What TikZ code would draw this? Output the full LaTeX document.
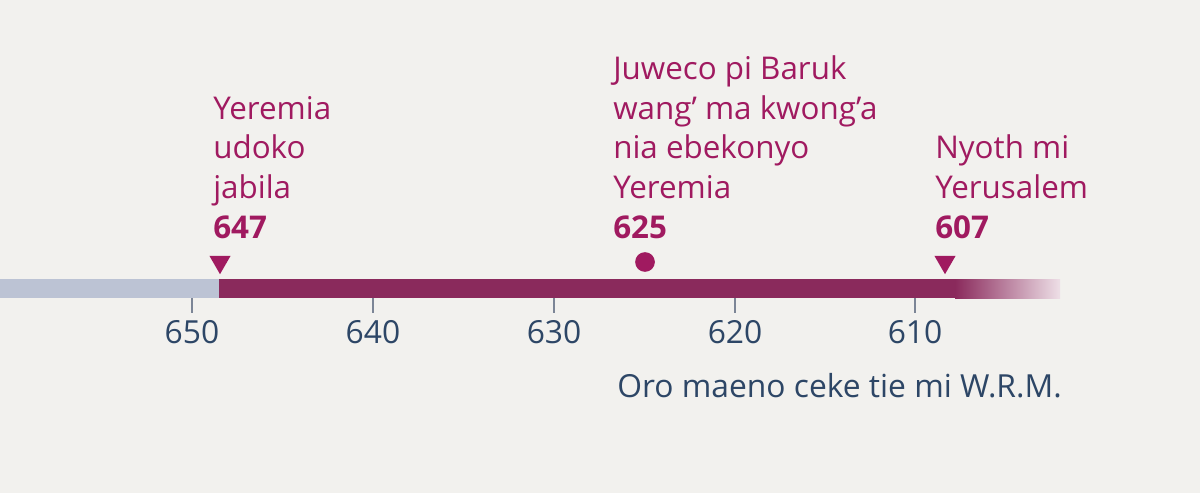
\documentclass[tikz,border=0pt]{standalone}
\usepackage{fontspec}
\setmainfont{Open Sans}
\usetikzlibrary{positioning, shapes.geometric}
\definecolor{color_paper}{HTML}{F2F1EE}
\definecolor{color_event}{HTML}{A01A60}
\definecolor{color_bar}{HTML}{8A2A5C}
\definecolor{color_past}{HTML}{BCC3D4}
\definecolor{color_scale}{HTML}{2D4666}
\definecolor{color_tick}{HTML}{7C8596}
\tikzset{
  bar_past/.style={fill=color_past, draw=none},
  bar_main/.style={fill=color_bar, draw=none},
  bar_fade/.style={left color=color_bar, right color=white!85!color_bar, draw=none},
  scale_tick/.style={draw=color_tick, line width=1.5pt},
  scale_label/.style={font=\fontsize{22.6pt}{27pt}\selectfont, text=color_scale, inner sep=0pt, anchor=base},
  event_label/.style={font=\fontsize{22.3pt}{28.1pt}\selectfont, text=color_event, align=left, inner sep=0pt, anchor=base west},
  event_mark/.style={isosceles triangle, shape border rotate=-90, isosceles triangle apex angle=60, fill=color_event, inner sep=0pt, minimum width=14pt, minimum height=13pt},
  event_dot/.style={circle, fill=color_event, inner sep=0pt, minimum size=14pt},
}
\begin{document}
\begin{tikzpicture}[x=0.025cm, y=-0.025cm]
    \fill[color_paper] (0,0) rectangle (1200,493);
    \useasboundingbox (0,0) rectangle (1200,493);
    % time bar
    \fill[bar_past] (0,279) rectangle (219,298);
    \fill[bar_main] (219,279) rectangle (955,298);
    \shade[bar_fade] (955,279) rectangle (1060,298);
    % scale
    \foreach \yr/\px in {650/192, 640/373, 630/554, 620/735, 610/915} {
      \coordinate (tick\yr) at (\px,298);
      \draw[scale_tick] (tick\yr) -- ++(0,15);
      \node[scale_label] (lbl\yr) at (\px,343) {\yr};
    }
    % events
    \node[event_mark] (mark647) at (220,262) {};
    \node[event_dot] (dot625) at (645,262) {};
    \node[event_mark] (mark607) at (945,262) {};
    \node[event_label] (ev647) at (213,238) {Yeremia\\udoko\\jabila\\\textbf{647}};
    \node[event_label] (ev625) at (613,238) {Juweco pi Baruk\\wang’ ma kwong’a\\nia ebekonyo\\Yeremia\\\textbf{625}};
    \node[event_label] (ev607) at (935,238) {Nyoth mi\\Yerusalem\\\textbf{607}};
    \node[scale_label, anchor=base east] (era) at (1062,397) {Oro maeno ceke tie mi W.R.M.};
\end{tikzpicture}
\end{document}
